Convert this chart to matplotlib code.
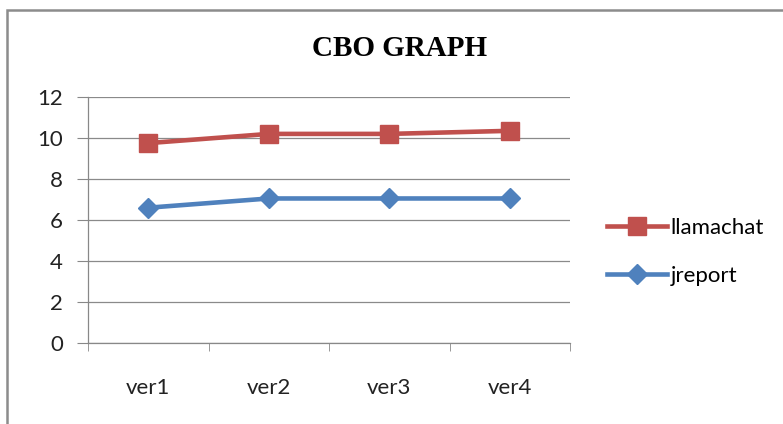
import matplotlib
matplotlib.use("Agg")
import matplotlib.pyplot as plt
from matplotlib.patches import Rectangle

plt.rcParams['font.family'] = ['Lato', 'DejaVu Sans']

versions = ["ver1", "ver2", "ver3", "ver4"]
llamachat = [9.75, 10.2, 10.2, 10.35]
jreport = [6.6, 7.05, 7.05, 7.05]
y_ticks = [0, 2, 4, 6, 8, 10, 12]

red = "#C0504D"
blue = "#4F81BD"

fig = plt.figure(figsize=(7.83, 4.24), dpi=100)
ax = fig.add_axes([88 / 783, 1 - 343 / 424, (570 - 88) / 783, (343 - 97) / 424])

x = list(range(len(versions)))
ax.plot(x, llamachat, color=red, lw=3.3, marker="s", ms=13, label="llamachat")
ax.plot(x, jreport, color=blue, lw=3.3, marker="D", ms=10, label="jreport")

ax.set_xlim(-0.5, len(versions) - 0.5)
ax.set_ylim(0, 12)
ax.set_yticks(y_ticks)
ax.set_xticks(x)
ax.set_xticklabels(versions)
ax.set_xticks([i - 0.5 for i in range(len(versions) + 1)], minor=True)
ax.tick_params(axis="x", which="major", length=0, pad=25, labelsize=16, colors="#222222")
ax.tick_params(axis="x", which="minor", length=6, color="#888888", direction="out")
ax.tick_params(axis="y", length=8, color="#888888", pad=10, labelsize=16, labelcolor="#222222")

ax.grid(axis="y", color="#8a8a8a", lw=0.9)
ax.set_axisbelow(True)
for s in ["top", "right"]:
    ax.spines[s].set_visible(False)
for s in ["left", "bottom"]:
    ax.spines[s].set_color("#888888")
    ax.spines[s].set_linewidth(0.9)

fig.text(400 / 783, 1 - 49 / 424, "CBO GRAPH", ha="center", va="center",
         family="Liberation Serif", fontweight="bold", fontsize=21)

handles, labels = ax.get_legend_handles_labels()
fig.legend(handles, labels, loc="center left", bbox_to_anchor=(607 / 783, 1 - 252 / 424),
           frameon=False, fontsize=16, handlelength=2.7, handletextpad=0.15,
           labelspacing=1.25, borderaxespad=0, borderpad=0)

fig.patches.append(Rectangle((7 / 783, -0.1), 1.2, 1 - 10 / 424 + 0.1,
                             transform=fig.transFigure, fill=False,
                             edgecolor="#8c8c8c", lw=1.8))

fig.savefig("out.png", dpi=100)
